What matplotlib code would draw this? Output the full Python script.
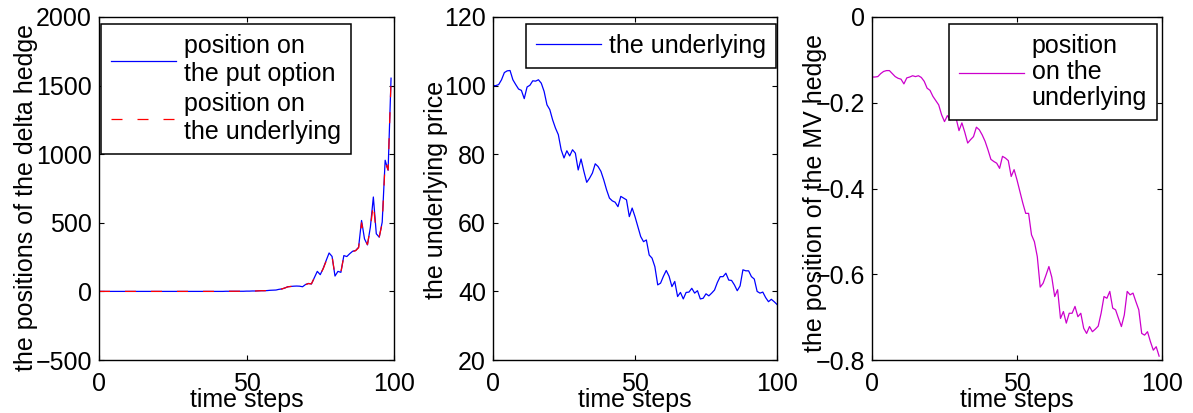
import numpy as np
import matplotlib
matplotlib.use("Agg")
import matplotlib.pyplot as plt

plt.rcParams['font.family'] = ['Liberation Sans', 'DejaVu Sans']
plt.rcParams['font.size'] = 18

# ---- data -------------------------------------------------------------
# delta hedge: position on the put option and on the underlying (t = 0..99)
put_position = [
    0, 0, 0, 0, 0, 0, 0, 0, 0, 0,
    0, 0, 0, 0, 0, 0, 0, 0, 0, 0,
    0, 0, 0, 0, 0, 0, 0, 0, 0, 0,
    0, 0, 0, 0, 0, 0, 0, 0, 0, 0,
    0, 0, 0, 1, 1, 1, 1, 1, 1, 1,
    2, 2, 3, 3, 4, 5, 5, 6, 8, 9,
    10, 15, 18, 25, 34, 36, 38, 39, 38, 34,
    50, 58, 54, 100, 146, 122, 168, 225, 280, 255,
    112, 146, 139, 261, 254, 275, 293, 298, 322, 517,
    383, 339, 470, 688, 420, 395, 505, 956, 883, 1554,
]
underlying_position = [
    0, 0, 0, 0, 0, 0, 0, 0, 0, 0,
    0, 0, 0, 0, 0, 0, 0, 0, 0, 0,
    0, 0, 0, 0, 0, 0, 0, 0, 0, 0,
    0, 0, 0, 0, 0, 0, 0, 0, 0, 0,
    0, 0, 0, 1, 1, 1, 1, 1, 1, 1,
    2, 2, 3, 3, 4, 5, 5, 6, 8, 9,
    10, 14, 18, 25, 33, 36, 38, 39, 38, 35,
    49, 57, 55, 98, 142, 124, 165, 220, 275, 258,
    115, 144, 141, 255, 256, 272, 290, 297, 318, 500,
    385, 342, 462, 640, 418, 398, 495, 940, 885, 1540,
]

# simulated underlying price (t = 0..100)
price = [
    100.0, 100.0, 100.3, 101.7, 103.8, 104.3, 104.4, 101.7, 100.3, 99.0,
    98.6, 96.2, 99.6, 100.1, 101.4, 101.3, 101.7, 100.7, 98.3, 94.4,
    93.0, 90.0, 87.6, 85.7, 81.3, 78.9, 81.0, 79.5, 81.3, 80.3,
    75.4, 78.6, 75.0, 71.8, 73.0, 74.5, 77.2, 76.4, 75.0, 72.5,
    69.6, 67.2, 66.4, 66.0, 64.7, 67.7, 67.2, 66.7, 61.8, 64.3,
    61.8, 58.9, 56.0, 54.5, 55.0, 50.6, 49.7, 47.2, 41.9, 42.4,
    44.4, 46.1, 44.4, 41.4, 42.9, 38.5, 39.7, 37.8, 39.7, 39.8,
    40.9, 39.5, 40.2, 37.8, 38.0, 39.3, 38.7, 39.5, 40.4, 42.6,
    44.3, 44.3, 45.3, 43.3, 43.2, 41.9, 40.2, 41.6, 46.3, 46.0,
    46.0, 44.3, 43.6, 40.0, 39.5, 39.8, 38.2, 37.0, 37.7, 37.0,
    36.2,
]

# minimum-variance hedge: position on the underlying (t = 0..99)
mv_position = [
    -0.140, -0.140, -0.139, -0.132, -0.127, -0.125, -0.125, -0.132, -0.139, -0.143,
    -0.145, -0.156, -0.142, -0.140, -0.137, -0.139, -0.137, -0.141, -0.150, -0.166,
    -0.171, -0.185, -0.195, -0.205, -0.228, -0.244, -0.230, -0.240, -0.230, -0.236,
    -0.265, -0.247, -0.269, -0.294, -0.286, -0.279, -0.257, -0.263, -0.275, -0.290,
    -0.310, -0.332, -0.337, -0.341, -0.353, -0.325, -0.329, -0.335, -0.372, -0.356,
    -0.380, -0.407, -0.434, -0.458, -0.458, -0.508, -0.524, -0.559, -0.630, -0.621,
    -0.602, -0.582, -0.607, -0.652, -0.636, -0.703, -0.687, -0.714, -0.691, -0.691,
    -0.675, -0.699, -0.691, -0.726, -0.738, -0.722, -0.734, -0.728, -0.721, -0.691,
    -0.652, -0.656, -0.640, -0.679, -0.683, -0.703, -0.722, -0.695, -0.640, -0.648,
    -0.644, -0.664, -0.683, -0.738, -0.742, -0.734, -0.757, -0.777, -0.769, -0.791,
]

steps_hedge = np.arange(len(put_position))
steps_price = np.arange(len(price))

x_ticks = [0, 50, 100]
y_ticks_delta = [-500, 0, 500, 1000, 1500, 2000]
y_ticks_price = [20, 40, 60, 80, 100, 120]
y_ticks_mv = [-0.8, -0.6, -0.4, -0.2, 0]

labels_delta = ["position on\nthe put option", "position on\nthe underlying"]
label_price = "the underlying"
label_mv = "position\non the\nunderlying"

# ---- figure -----------------------------------------------------------
W, H = 1193, 413
fig = plt.figure(figsize=(W / 100, H / 100), dpi=100)


def add_axes_px(x0, x1, y_top, y_bot):
    return fig.add_axes([x0 / W, (H - y_bot) / H, (x1 - x0) / W, (y_bot - y_top) / H])


ax1 = add_axes_px(99, 394, 17, 360)
ax2 = add_axes_px(493, 777, 17, 360)
ax3 = add_axes_px(872, 1162, 17, 360)


def style(ax, yticks, ylim):
    ax.set_xlim(0, 100)
    ax.set_ylim(*ylim)
    ax.set_xticks(x_ticks)
    ax.set_yticks(yticks)
    ax.tick_params(direction='in', top=True, right=True, length=3.5, width=0.8,
                   labelsize=18)
    ax.tick_params(axis='x', pad=8.5)
    ax.tick_params(axis='y', pad=5)
    for s in ax.spines.values():
        s.set_linewidth(1.0)


def legend(ax, loc, anchor, linespacing=1.2):
    leg = ax.legend(loc=loc, bbox_to_anchor=anchor, fontsize=18, frameon=True,
                    fancybox=False, framealpha=1, edgecolor='black',
                    handlelength=2.6, handletextpad=0.3, borderpad=0.4,
                    labelspacing=0.25, borderaxespad=0)
    leg.get_frame().set_linewidth(1.1)
    for t in leg.get_texts():
        t.set_linespacing(linespacing)
    return leg


# panel 1: delta hedge positions
ax1.plot(steps_hedge, put_position, color='blue', lw=0.9, label=labels_delta[0])
ax1.plot(steps_hedge, underlying_position, color='red', lw=0.9,
         linestyle=(0, (8.8, 12)), label=labels_delta[1])
style(ax1, y_ticks_delta, (-500, 2000))
ax1.set_xlabel("time steps", va='center')
ax1.xaxis.set_label_coords(0.5, (360 - 400) / 343)
ax1.set_ylabel("the positions of the delta hedge", va='center')
ax1.yaxis.set_label_coords((26 - 99) / 295, 0.475)
legend(ax1, 'upper left', (0.007, 0.98))

# panel 2: underlying price
ax2.plot(steps_price, price, color='blue', lw=0.9, label=label_price)
style(ax2, y_ticks_price, (20, 120))
ax2.set_xlabel("time steps", va='center')
ax2.xaxis.set_label_coords(0.5, (360 - 400) / 343)
ax2.set_ylabel("the underlying price", va='center')
ax2.yaxis.set_label_coords((436 - 493) / 284, 0.496)
legend(ax2, 'upper right', (0.995, 0.98))

# panel 3: minimum-variance hedge
ax3.plot(steps_hedge, mv_position, color=(0.8, 0.0, 0.8), lw=0.9, label=label_mv)
style(ax3, y_ticks_mv, (-0.8, 0))
ax3.set_yticklabels(["\u22120.8", "\u22120.6", "\u22120.4", "\u22120.2", "0"])
ax3.set_xlabel("time steps", va='center')
ax3.xaxis.set_label_coords(0.5, (360 - 400) / 343)
ax3.set_ylabel("the position of the MV hedge", va='center')
ax3.yaxis.set_label_coords((815 - 872) / 290, 0.487)
legend(ax3, 'upper right', (0.983, 0.98), linespacing=1.1)

fig.savefig("out.png", dpi=100)
